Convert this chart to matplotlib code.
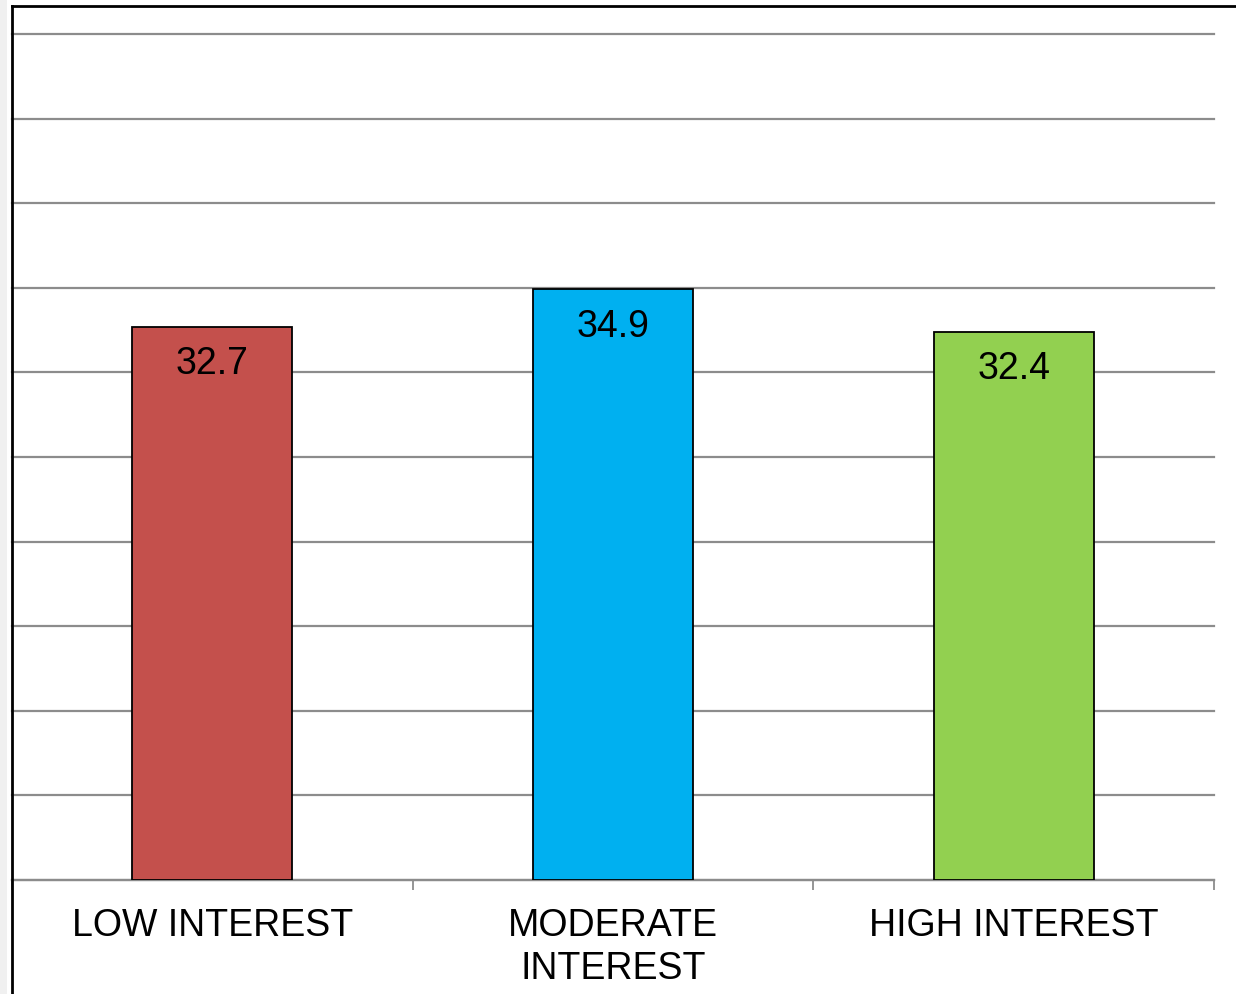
import matplotlib
matplotlib.use("Agg")
import matplotlib.pyplot as plt
from matplotlib.lines import Line2D
from matplotlib.patches import Rectangle

categories = ["LOW INTEREST", "MODERATE\nINTEREST", "HIGH INTEREST"]
values = [32.7, 34.9, 32.4]
colors = ["#C4504C", "#00B0F0", "#92D050"]

plt.rcParams['font.family'] = ['Liberation Sans', 'DejaVu Sans']

W, H = 1236, 994
fig = plt.figure(figsize=(W / 100, H / 100), dpi=100)
ax = fig.add_axes([12 / W, (H - 880) / H, (1214 - 12) / W, (880 - 34) / H])

x = list(range(len(categories)))
ax.bar(x, values, width=0.4, color=colors, edgecolor="black", linewidth=1.3, zorder=3)
for xi, v in zip(x, values):
    ax.annotate(f"{v}", (xi, v), xytext=(0, -14), textcoords="offset points",
                ha="center", va="top", fontsize=27, color="black", zorder=4)

ax.set_xlim(-0.5, 2.5)
ax.set_ylim(0, 50)
ax.set_yticks(range(0, 51, 5))
ax.yaxis.grid(True, color="#8C8C8C", linewidth=1.6, zorder=0)
for gl in ax.get_ygridlines():
    gl.set_clip_on(False)
ax.set_yticklabels([])
ax.tick_params(axis="y", length=0)

ax.set_xticks(x)
ax.set_xticklabels(categories, fontsize=27, linespacing=1.25)
ax.tick_params(axis="x", which="major", length=0, pad=20)
ax.set_xticks([-0.5, 0.5, 1.5, 2.5], minor=True)
ax.tick_params(axis="x", which="minor", length=7, width=1.3, color="#8C8C8C")

for s in ["top", "right", "left"]:
    ax.spines[s].set_visible(False)
ax.spines["bottom"].set_color("#8C8C8C")
ax.spines["bottom"].set_linewidth(1.6)

# outer frame lines
fig.add_artist(Line2D([12 / W, 12 / W], [0, (H - 6) / H], transform=fig.transFigure,
                      color="black", linewidth=2))
fig.add_artist(Line2D([12 / W, 1], [(H - 6) / H, (H - 6) / H], transform=fig.transFigure,
                      color="black", linewidth=2))
fig.add_artist(Rectangle((0, 0), 7 / W, 1, transform=fig.transFigure,
                         color="#F0F0F0", linewidth=0))

fig.savefig("out.png", dpi=100)
